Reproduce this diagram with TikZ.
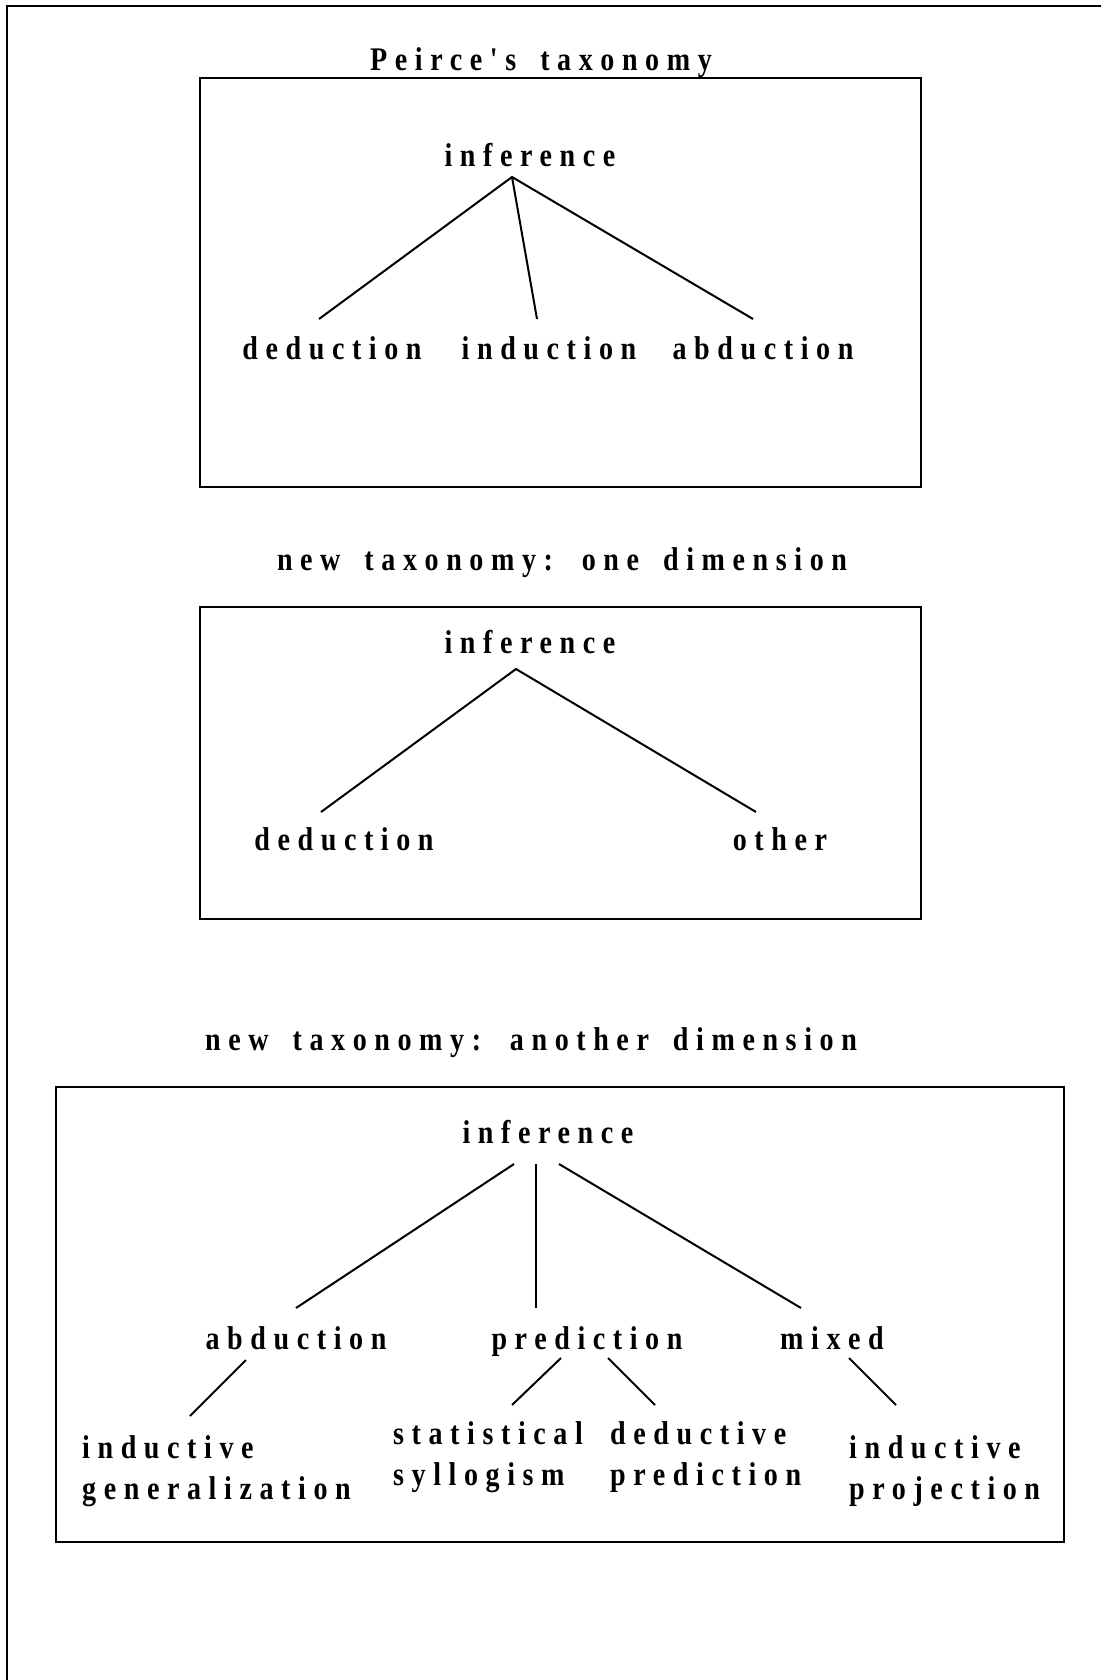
\documentclass[tikz,border=0pt]{standalone}
\usepackage{fontspec}
\newfontfamily\lblfont[LetterSpace=23,FakeStretch=0.85,UprightFont=* Bold,BoldFont=* Bold]{Liberation Serif}
\newcommand\lblsetup{\lblfont\fontsize{33}{40}\selectfont\spaceskip=24pt\relax}
\begin{document}
\begin{tikzpicture}[x=1pt,y=-1pt,
  lbl/.style={font=\lblsetup, inner sep=0pt, anchor=base},
  lblw/.style={lbl, anchor=base west},
  frame/.style={line width=2.6pt},
  box/.style={line width=2.3pt},
  edge/.style={line width=2pt}]
\useasboundingbox (0,0) rectangle (1101,1680);
% outer frame (top and left only)
\draw[frame] (1101,6) -- (7,6) -- (7,1680);

% ---------- Peirce's taxonomy ----------
\node[lbl] (t1) at (541,71) {Peirce's taxonomy};
\draw[box] (200,78) rectangle (921,487);
\node[lbl] (inf1) at (530,167) {inference};
\node[lbl] (ded1) at (332,359) {deduction};
\node[lbl] (ind1) at (549,359) {induction};
\node[lbl] (abd1) at (763,359) {abduction};
\coordinate (p1) at (512,177);
\coordinate (d1) at (319,319);
\coordinate (i1) at (537,319);
\coordinate (a1) at (753,319);
\draw[edge] (d1) -- (p1) -- (a1);
\draw[edge] (p1) -- (i1);

% ---------- one dimension ----------
\node[lbl] (t2) at (562,570) {new taxonomy: one dimension};
\draw[box] (200,607) rectangle (921,919);
\node[lbl] (inf2) at (530,653) {inference};
\node[lbl] (ded2) at (344,850) {deduction};
\node[lbl] (oth2) at (780,850) {other};
\coordinate (p2) at (516,669);
\coordinate (d2) at (321,812);
\coordinate (o2) at (756,812);
\draw[edge] (d2) -- (p2) -- (o2);

% ---------- another dimension ----------
\node[lbl] (t3) at (531,1050) {new taxonomy: another dimension};
\draw[box] (56,1087) rectangle (1064,1542);
\node[lbl] (inf3) at (548,1143) {inference};
\node[lbl] (abd3) at (296,1349) {abduction};
\node[lbl] (pre3) at (587,1349) {prediction};
\node[lbl] (mix3) at (832,1349) {mixed};
\coordinate (s3a) at (514,1164);
\coordinate (s3b) at (536,1164);
\coordinate (s3c) at (559,1164);
\coordinate (e3a) at (296,1308);
\coordinate (e3b) at (536,1308);
\coordinate (e3c) at (801,1308);
\draw[edge] (s3a) -- (e3a);
\draw[edge] (s3b) -- (e3b);
\draw[edge] (s3c) -- (e3c);

\node[lblw] (ig1) at (82,1458) {inductive};
\node[lblw] (ig2) at (82,1499) {generalization};
\node[lblw] (ss1) at (393,1444) {statistical};
\node[lblw] (ss2) at (393,1485) {syllogism};
\node[lblw] (dp1) at (610,1444) {deductive};
\node[lblw] (dp2) at (610,1485) {prediction};
\node[lblw] (ip1) at (849,1458) {inductive};
\node[lblw] (ip2) at (849,1499) {projection};

\coordinate (ga) at (246,1360);
\coordinate (gb) at (190,1416);
\coordinate (sa) at (561,1358);
\coordinate (sb) at (512,1405);
\coordinate (da) at (608,1358);
\coordinate (db) at (655,1405);
\coordinate (ja) at (849,1358);
\coordinate (jb) at (896,1405);
\draw[edge] (ga) -- (gb);
\draw[edge] (sa) -- (sb);
\draw[edge] (da) -- (db);
\draw[edge] (ja) -- (jb);
\end{tikzpicture}
\end{document}
